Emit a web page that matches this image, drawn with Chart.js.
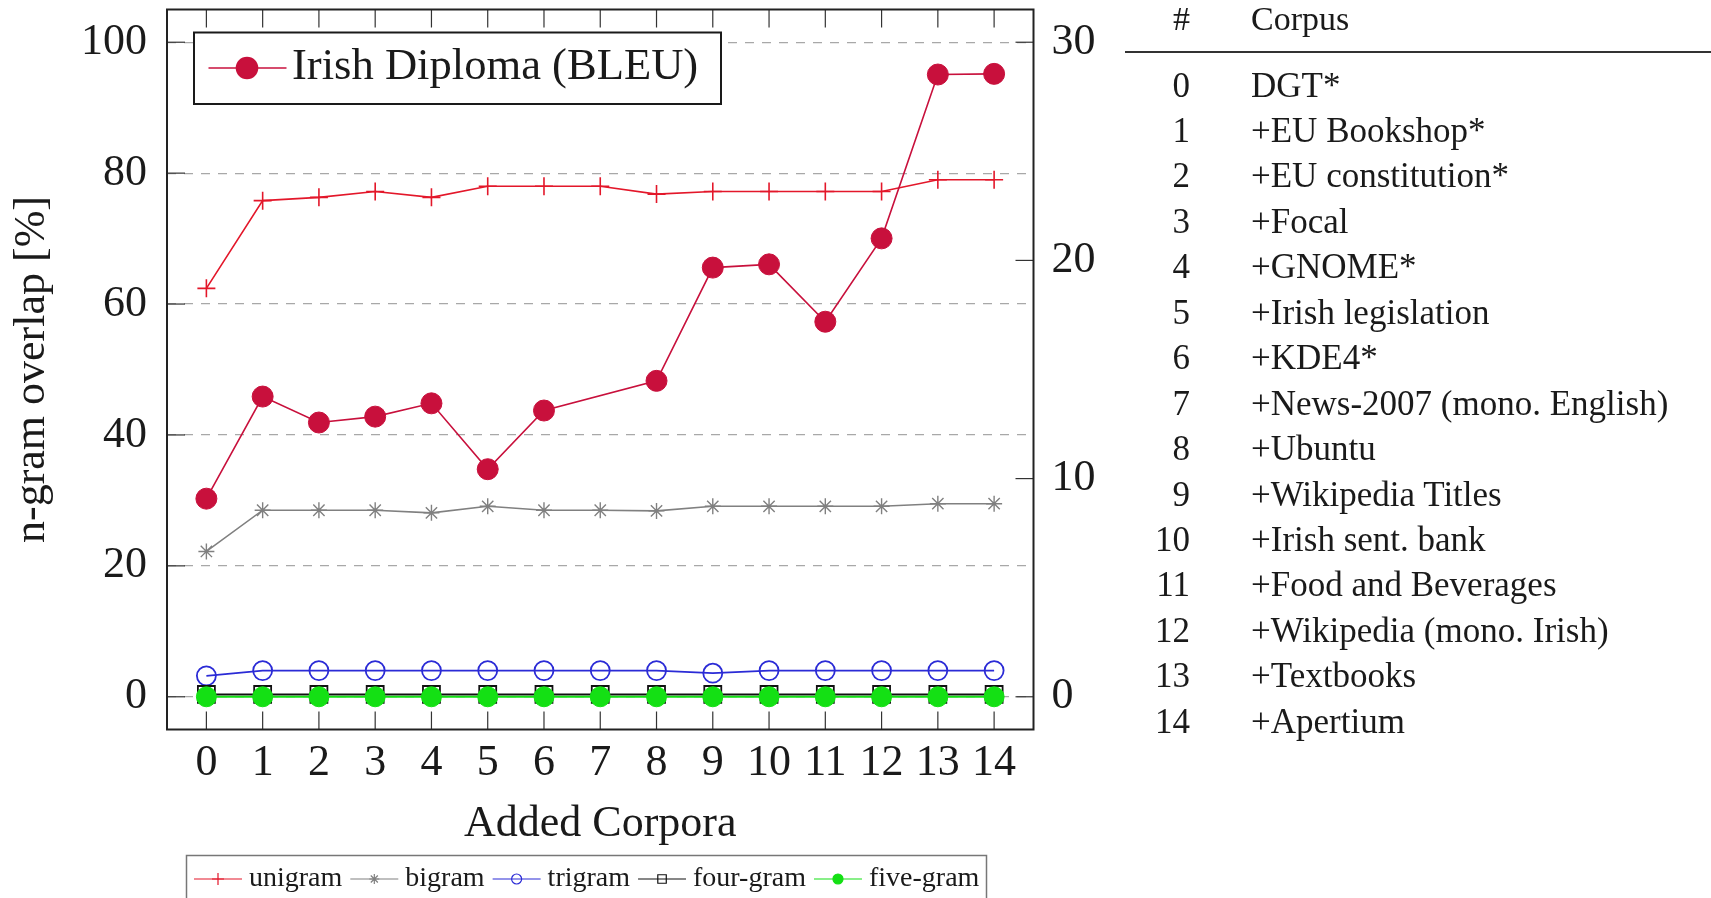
<!DOCTYPE html>
<html>
<head>
<meta charset="utf-8">
<script src="https://cdn.jsdelivr.net/npm/chart.js@4.4.0/dist/chart.umd.min.js"></script>
<style>
html,body{margin:0;padding:0;background:#fff;width:1711px;height:898px;overflow:hidden;}
#wrap{position:absolute;left:0;top:0;width:1110px;height:898px;}
#tbl{position:absolute;left:0;top:0;width:1711px;height:898px;font-family:'Liberation Serif',serif;color:#1a1a1a;pointer-events:none;}
.num{position:absolute;text-align:right;width:80px;left:1110px;font-size:35px;line-height:45.4px;}
.name{position:absolute;left:1251px;font-size:35px;line-height:45.4px;white-space:nowrap;}
.rule{position:absolute;left:1125px;width:586px;top:50.5px;height:2px;background:#333;}
</style>
</head>
<body>
<div id="wrap"><canvas id="c" width="1110" height="898"></canvas></div>
<div id="tbl"></div>
<script>
// ---------- data ----------
const categories = [0, 1, 2, 3, 4, 5, 6, 7, 8, 9, 10, 11, 12, 13, 14];
const unigram  = [62.4, 75.8, 76.3, 77.2, 76.3, 78.0, 78.0, 78.0, 76.8, 77.2, 77.2, 77.2, 77.2, 79.0, 79.0];
const bigram   = [22.2, 28.5, 28.5, 28.5, 28.1, 29.1, 28.5, 28.5, 28.4, 29.1, 29.1, 29.1, 29.1, 29.5, 29.5];
const trigram  = [3.2, 4.0, 4.0, 4.0, 4.0, 4.0, 4.0, 4.0, 4.0, 3.6, 4.0, 4.0, 4.0, 4.0, 4.0];
const fourgram = [0.35, 0.35, 0.35, 0.35, 0.35, 0.35, 0.35, 0.35, 0.35, 0.35, 0.35, 0.35, 0.35, 0.35, 0.35];
const fivegram = [0, 0, 0, 0, 0, 0, 0, 0, 0, 0, 0, 0, 0, 0, 0];
const bleu     = [9.08, 13.76, 12.57, 12.84, 13.45, 10.43, 13.12, null, 14.48, 19.67, 19.82, 17.19, 21.01, 28.52, 28.55];
const leftTicks  = [0, 20, 40, 60, 80, 100];
const rightTicks = [0, 10, 20, 30];
const corpusIds = ['0','1','2','3','4','5','6','7','8','9','10','11','12','13','14'];
const corpusNames = ['DGT*', '+EU Bookshop*', '+EU constitution*', '+Focal', '+GNOME*', '+Irish legislation',
  '+KDE4*', '+News-2007 (mono. English)', '+Ubuntu', '+Wikipedia Titles', '+Irish sent. bank',
  '+Food and Beverages', '+Wikipedia (mono. Irish)', '+Textbooks', '+Apertium'];

// ---------- table ----------
(function(){
  const t = document.getElementById('tbl');
  let h = '<div class="num" style="top:-1px;font-size:34px;line-height:40px;">#</div>' +
          '<div class="name" style="top:-1px;font-size:34px;line-height:40px;">Corpus</div>' +
          '<div class="rule"></div>';
  for (let i = 0; i < corpusIds.length; i++) {
    const top = 62.5 + i * 45.45;
    h += '<div class="num" style="top:' + top + 'px">' + corpusIds[i] + '</div>' +
         '<div class="name" style="top:' + top + 'px">' + corpusNames[i] + '</div>';
  }
  t.innerHTML = h;
})();

// ---------- chart ----------
const pts = arr => categories.map((c, i) => ({x: c, y: arr[i]}));
const RED = '#e3172a', GRAY = '#808080', BLUE = '#2b2bd6', BLACK = '#111', GREEN = '#14e014', CRIMSON = '#c8103c';

const series = [
  {label: 'unigram',   data: unigram,  color: RED,   style: 'cross',  r: 9,   lw: 1.6, fill: 'transparent', bw: 1.6, lr: 6},
  {label: 'bigram',    data: bigram,   color: GRAY,  style: 'star',   r: 8,   lw: 1.6, fill: 'transparent', bw: 1.4, lr: 5},
  {label: 'trigram',   data: trigram,  color: BLUE,  style: 'circle', r: 9.5, lw: 1.8, fill: 'transparent', bw: 1.8, lr: 5},
  {label: 'four-gram', data: fourgram, color: BLACK, style: 'rect',   r: 12,  lw: 2.0, fill: 'transparent', bw: 1.8, lr: 6},
  {label: 'five-gram', data: fivegram, color: GREEN, style: 'circle', r: 10,  lw: 2.2, fill: GREEN,         bw: 1,   lr: 5}
];
const orders = [5, 4, 3, 2, 1];
const datasets = [{
  label: 'Irish Diploma (BLEU)', data: pts(bleu), yAxisID: 'y1', order: 0,
  borderColor: CRIMSON, backgroundColor: CRIMSON, borderWidth: 1.6,
  pointStyle: 'circle', pointRadius: 10.5, pointBorderWidth: 1, pointBackgroundColor: CRIMSON,
  spanGaps: true, tension: 0
}];
series.forEach((s, k) => datasets.push({
  label: s.label, data: pts(s.data), yAxisID: 'y', order: orders[k],
  borderColor: s.color, backgroundColor: s.fill, borderWidth: s.lw,
  pointStyle: s.style, pointRadius: s.r, pointBorderWidth: s.bw,
  pointBackgroundColor: s.fill, pointBorderColor: s.color, tension: 0
}));

const FONT = "'Liberation Serif', serif";
const TL = 18;

const decorPlugin = {
  id: 'decor',
  afterDatasetsDraw(chart) {
    const {ctx, chartArea: a, scales} = chart;
    const line = (x1, y1, x2, y2) => { ctx.beginPath(); ctx.moveTo(x1, y1); ctx.lineTo(x2, y2); ctx.stroke(); };
    ctx.save();
    ctx.strokeStyle = '#333'; ctx.lineWidth = 1.2;
    scales.x.ticks.forEach(t => {
      const px = scales.x.getPixelForValue(t.value);
      line(px, a.top, px, a.top + TL);
      line(px, a.bottom, px, a.bottom - TL);
    });
    scales.y.ticks.forEach(t => {
      const py = scales.y.getPixelForValue(t.value);
      line(a.left, py, a.left + TL, py);
    });
    scales.y1.ticks.forEach(t => {
      const py = scales.y1.getPixelForValue(t.value);
      line(a.right, py, a.right - TL, py);
    });
    ctx.strokeStyle = '#222'; ctx.lineWidth = 2;
    ctx.strokeRect(a.left, a.top, a.right - a.left, a.bottom - a.top);

    // BLEU legend (inside, top-left)
    const d0 = datasets[0];
    ctx.fillStyle = '#fff';
    ctx.fillRect(194, 32.5, 527, 71.5);
    ctx.strokeStyle = '#1a1a1a'; ctx.lineWidth = 2;
    ctx.strokeRect(194, 32.5, 527, 71.5);
    ctx.strokeStyle = CRIMSON; ctx.lineWidth = 1.6;
    line(208.5, 68, 286.5, 68);
    ctx.fillStyle = CRIMSON;
    Chart.helpers.drawPoint(ctx, {pointStyle: 'circle', radius: 10.5, rotation: 0, borderWidth: 1}, 247, 68);
    ctx.fillStyle = '#1a1a1a';
    ctx.font = "44.6px " + FONT; ctx.textBaseline = 'middle'; ctx.textAlign = 'left';
    ctx.fillText(d0.label, 292, 67);

    // n-gram legend (bottom box)
    ctx.strokeStyle = '#777'; ctx.lineWidth = 1.5;
    ctx.strokeRect(186.5, 855.5, 800, 60);
    ctx.font = "28px " + FONT;
    let x = 194;
    const y = 879;
    series.forEach(s => {
      ctx.strokeStyle = s.color; ctx.lineWidth = 1.2;
      line(x, y, x + 48, y);
      ctx.fillStyle = s.fill;
      Chart.helpers.drawPoint(ctx, {pointStyle: s.style, radius: s.lr, rotation: 0, borderWidth: 1.1}, x + 24, y);
      ctx.fillStyle = '#1a1a1a';
      ctx.fillText(s.label, x + 55, y);
      x = x + 55 + ctx.measureText(s.label).width + 8;
    });
    ctx.restore();
  }
};

Chart.defaults.font.family = FONT;
Chart.defaults.color = '#1a1a1a';

const noPad = s => { s.paddingTop = 0; s.paddingBottom = 0; s.paddingLeft = 0; s.paddingRight = 0; };

new Chart(document.getElementById('c'), {
  type: 'line',
  data: {datasets},
  options: {
    responsive: false,
    animation: false,
    devicePixelRatio: 1,
    layout: {autoPadding: false, padding: {top: 9.5, left: 0, right: 0, bottom: 0}},
    plugins: {legend: {display: false}, tooltip: {enabled: false}},
    scales: {
      x: {
        type: 'linear', min: -0.7, max: 14.7,
        afterBuildTicks: s => { s.ticks = categories.map(v => ({value: v})); },
        ticks: {font: {size: 44}, padding: 8, autoSkip: false, maxRotation: 0, color: '#1a1a1a'},
        grid: {display: false, drawTicks: false},
        border: {display: false},
        title: {display: true, text: 'Added Corpora', font: {size: 44}, color: '#1a1a1a', padding: {top: 0, bottom: 47.5}},
        afterFit: s => { s.height = 168.5; noPad(s); }
      },
      y: {
        type: 'linear', position: 'left', min: -5, max: 105,
        afterBuildTicks: s => { s.ticks = leftTicks.map(v => ({value: v})); },
        ticks: {font: {size: 44}, padding: 20, color: '#1a1a1a'},
        grid: {color: '#a8a8a8', lineWidth: 1.2, drawTicks: false},
        border: {display: false, dash: [9, 8]},
        title: {display: true, text: 'n-gram overlap [%]', font: {size: 44}, color: '#1a1a1a', padding: {top: 6, bottom: 0}},
        afterFit: s => { s.width = 167; noPad(s); }
      },
      y1: {
        type: 'linear', position: 'right', min: -1.5, max: 31.5,
        afterBuildTicks: s => { s.ticks = rightTicks.map(v => ({value: v})); },
        ticks: {font: {size: 44}, padding: 18, color: '#1a1a1a'},
        grid: {display: false, drawTicks: false},
        border: {display: false},
        afterFit: s => { s.width = 76.5; noPad(s); }
      }
    }
  },
  plugins: [decorPlugin]
});
</script>
</body>
</html>
